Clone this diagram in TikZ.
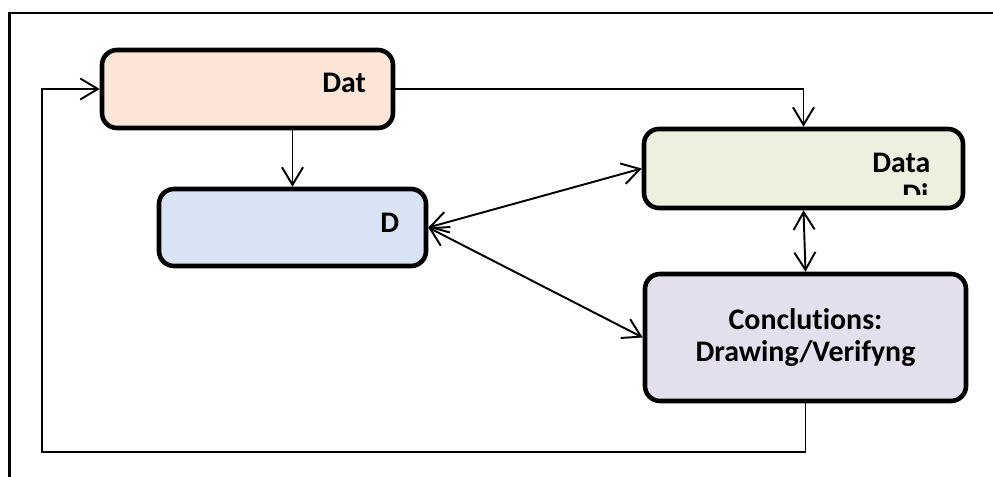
\documentclass[tikz,border=0pt]{standalone}
\usepackage{fontspec}
\setmainfont[Ligatures=NoCommon]{Carlito}
\usepackage{xcolor}
\usetikzlibrary{arrows.meta}

\definecolor{peach}{HTML}{FBE5D6}
\definecolor{paleblue}{HTML}{DAE3F3}
\definecolor{palegreen}{HTML}{EBF1DE}
\definecolor{lavender}{HTML}{E4DFEC}

\tikzset{
  box/.style={draw=black, line width=2.6pt, rounded corners=0.3cm, inner sep=0pt},
  lbl/.style={font=\fontsize{17}{18}\selectfont\bfseries, anchor=base west, inner sep=0pt},
  link/.style={line width=1.1pt, >={Straight Barb[length=10pt, width=12pt]}}
}

\begin{document}
\begin{tikzpicture}
  \useasboundingbox (0,0) rectangle (19.86,9.54);
  % frame
  \draw[line width=1.3pt] (0.19,0) -- (0.19,9.28) -- (19.86,9.28);
  % boxes
  \node[box, fill=peach, minimum width=5.82cm, minimum height=1.56cm] (dat) at (4.95,7.76) {};
  \node[box, fill=paleblue, minimum width=5.34cm, minimum height=1.54cm] (d) at (5.85,4.99) {};
  \node[box, fill=palegreen, minimum width=6.38cm, minimum height=1.58cm] (data) at (16.07,6.17) {};
  \node[box, fill=lavender, minimum width=6.42cm, minimum height=2.54cm, align=center,
        font=\fontsize{17}{18}\selectfont\bfseries] (concl) at (16.11,2.79) {Conclutions:\\Drawing/Verifyng};
  % labels
  \node[lbl] (datlbl) at (6.44,7.68) {Dat};
  \node[lbl] (dlbl) at (7.60,4.88) {D};
  \node[lbl] (datalbl) at (17.44,6.08) {Data};
  \begin{scope}
    \clip (13.0,5.64) rectangle (19.2,7.0);
    \node[lbl] (dilbl) at (18.04,5.44) {Di};
  \end{scope}
  % connectors
  \coordinate (loopbl) at (0.84,0.5);
  \draw[link, ->] (dat.south -| d.north) -- (d.north);
  \draw[link, ->] (dat.east) -| (data.north);
  \draw[link, <->] (d.east) -- (data.west);
  \draw[link, <->] (d.east) -- (concl.west);
  \draw[link, <->] (data.south) -- (concl.north);
  \draw[link, ->] (concl.south) |- (loopbl) |- (dat.west);
\end{tikzpicture}
\end{document}
